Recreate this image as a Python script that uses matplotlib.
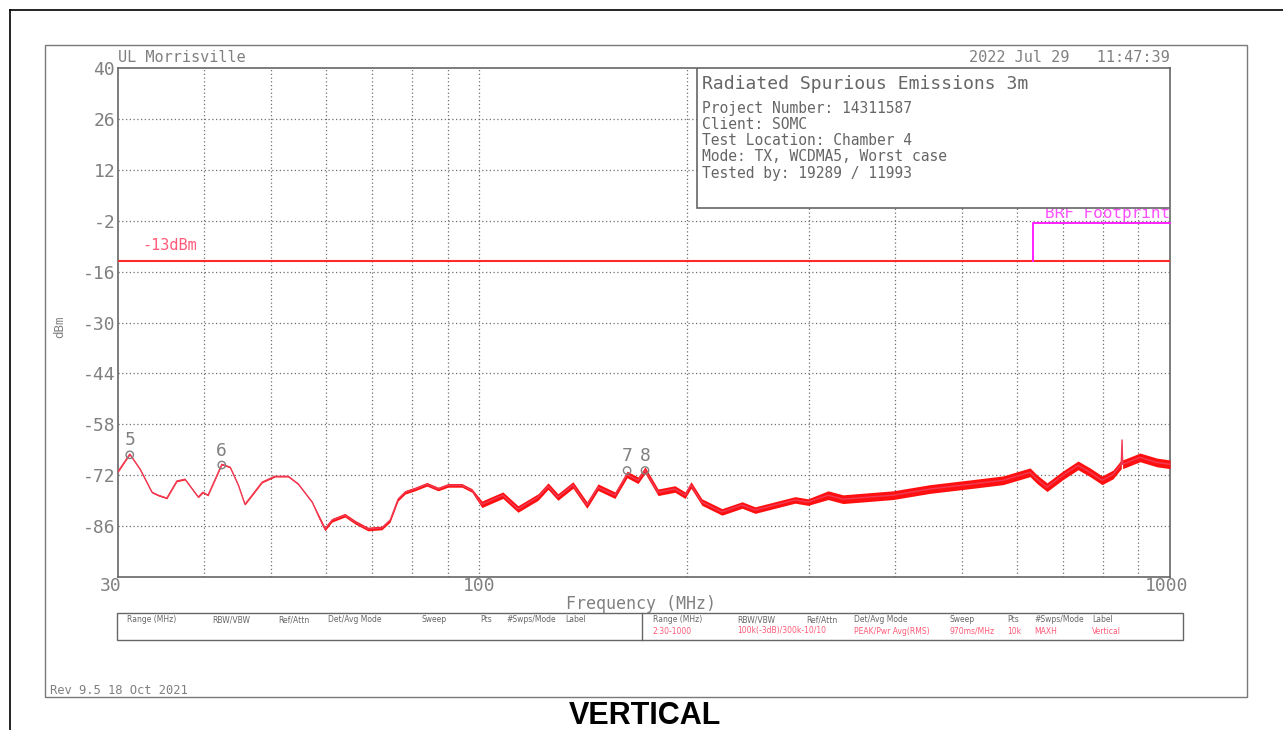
#importing necessary modules
import matplotlib
matplotlib.use("Agg")
import matplotlib.pyplot as plt
from matplotlib.patches import Rectangle
from matplotlib.lines import Line2D

# trace (MHz, dBm)
freq_mhz = [30, 31.2, 32.3, 33.6, 34.3, 35.3, 36.5, 37.5, 39.2, 39.8,
            40.5, 41.5, 42.4, 43.6, 44.8, 45.8, 46.9, 48.5, 50.6, 52.9,
            54.7, 57.3, 58.8, 59.8, 61.2, 63.9, 66.1, 69.0, 72.3, 74.3,
            76.3, 78.1, 80.7, 84.0, 87.2, 90.1, 94.4, 97.6, 100.9, 108.2,
            113.8, 121.7, 125.8, 130.0, 136.7, 143.2, 148.6, 157.2, 163.7, 169.8,
            173.8, 181.5, 192.0, 198.6, 202.6, 210.1, 224.6, 240.2, 250.8, 268.1,
            286.6, 299.2, 319.9, 336.2, 397.2, 449.3, 513.5, 573.1, 627.2, 641.9,
            663.7, 700.1, 736, 766, 797.3, 827.1, 850, 852.3, 854, 904.8,
            957.5, 1000]
level_dbm = [-71, -66.2, -70.4, -76.7, -77.5, -78.3, -73.6, -73.1, -78, -76.7,
             -77.5, -73, -69, -69.8, -74.7, -80, -77.5, -73.9, -72.3, -72.3,
             -74.4, -79.4, -84, -86.8, -84.4, -83, -84.9, -86.8, -86.5, -84.4,
             -78.6, -76.7, -75.8, -74.5, -75.8, -74.8, -74.8, -76.2, -80, -77.5,
             -81.3, -78, -75, -78, -74.7, -80.2, -75.3, -77.5, -71.8, -73.4,
             -70.6, -76.7, -75.8, -77.5, -74.7, -79.4, -82.1, -80.2, -81.6, -80.2,
             -78.8, -79.4, -77.5, -78.6, -77.5, -75.8, -74.5, -73.4, -71.2, -73.1,
             -75.3, -72, -69.3, -71.2, -73.4, -71.8, -69, -62.3, -69, -67.1,
             -68.5, -69]
# half width of the noise band around the trace (dB)
spread_db = [0.2, 0.2, 0.2, 0.2, 0.2, 0.2, 0.2, 0.2, 0.2, 0.2,
             0.2, 0.2, 0.2, 0.2, 0.2, 0.2, 0.2, 0.2, 0.2, 0.2,
             0.2, 0.2, 0.5, 0.5, 0.5, 0.5, 0.5, 0.5, 0.5, 0.5,
             0.5, 0.5, 0.5, 0.5, 0.5, 0.5, 0.5, 0.5, 0.9, 0.9,
             0.9, 0.9, 0.9, 0.9, 0.9, 0.9, 0.9, 0.9, 0.9, 0.9,
             0.9, 0.9, 0.9, 0.9, 0.9, 0.9, 0.9, 0.9, 0.9, 0.9,
             0.9, 0.9, 1.2, 1.2, 1.2, 1.2, 1.2, 1.2, 1.2, 1.2,
             1.2, 1.2, 1.2, 1.2, 1.2, 1.2, 1.2, 0.2, 1.2, 1.2,
             1.2, 1.2]

# peak markers
marker_freq = [31.2, 42.4, 163.7, 173.8]
marker_dbm = [-66.4, -69.2, -70.7, -70.7]
marker_labels = ['5', '6', '7', '8']

# limit line and BRF footprint box
limit_dbm = -13
brf_start = 634
brf_stop = 1000
brf_top = -2.6

yticks = [40, 26, 12, -2, -16, -30, -44, -58, -72, -86]
xgrid = [40, 50, 60, 70, 80, 90, 100, 200, 300, 400, 500, 600, 700, 800, 900]

info_lines = ['Project Number: 14311587', 'Client: SOMC', 'Test Location: Chamber 4',
              'Mode: TX, WCDMA5, Worst case', 'Tested by: 19289 / 11993']

table_headers = ['Range (MHz)', 'RBW/VBW', 'Ref/Attn', 'Det/Avg Mode', 'Sweep', 'Pts', '#Swps/Mode', 'Label']
table_values = ['2:30-1000', '100k(-3dB)/300k-10/10', '', 'PEAK/Pwr Avg(RMS)', '970ms/MHz', '10k', 'MAXH', 'Vertical']
header_x_left = [127, 212, 278, 328, 422, 480, 506, 565]
header_x_right = [653, 737, 806, 854, 950, 1007, 1034, 1092]

W, H = 1283, 730
mono = 'DejaVu Sans Mono'
grey = '#808080'

def fx(px):
    return px / W

def fy(py):
    return 1 - py / H

fig = plt.figure(figsize=(12.83, 7.30), dpi=100)

# outer frames
fig.add_artist(Line2D([fx(10), 1], [fy(10), fy(10)], color='black', lw=1.2))
fig.add_artist(Line2D([fx(10), fx(10)], [fy(10), 0], color='black', lw=1.2))
fig.add_artist(Rectangle((fx(45), fy(697)), fx(1247) - fx(45), fy(45) - fy(697),
                         fill=False, edgecolor='#7a7a7a', lw=1.0))

ax = fig.add_axes([fx(118), fy(577), fx(1170) - fx(118), fy(68) - fy(577)])
ax.set_xscale('log')
ax.set_xlim(30, 1000)
ax.set_ylim(-100, 40)

# grid
for f in xgrid:
    ax.axvline(f, color='#707070', lw=0.9, ls=(0, (1, 2)), zorder=1)
for y in yticks[1:]:
    ax.axhline(y, color='#707070', lw=0.9, ls=(0, (1, 2)), zorder=1)

ax.set_yticks(yticks)
ax.set_yticklabels([str(t) for t in yticks], fontsize=13, family=mono, color=grey)
ax.set_xticks([])
ax.minorticks_off()
ax.tick_params(axis='y', length=0, pad=2)
ax.tick_params(axis='x', which='both', length=0)
for s in ax.spines.values():
    s.set_color('#666666')
    s.set_linewidth(1.2)

# x tick labels drawn by hand like the analyzer
ax.text(29.3, -100, '30', ha='center', va='top', fontsize=13, family=mono, color=grey)
ax.text(100, -100, '100', ha='center', va='top', fontsize=13, family=mono, color=grey)
ax.text(990, -100, '1000', ha='center', va='top', fontsize=13, family=mono, color=grey)

# trace
lower = [l - s for l, s in zip(level_dbm, spread_db)]
upper = [l + s for l, s in zip(level_dbm, spread_db)]
ax.fill_between(freq_mhz, lower, upper, color='#ff1010', lw=0, zorder=3)
ax.plot(freq_mhz, level_dbm, color='#f03a55', lw=1.0, zorder=4)

# limit line
ax.axhline(limit_dbm, color='#ff2a2a', lw=1.5, zorder=5)
ax.text(32.5, limit_dbm + 4.2, '-13dBm', fontsize=11, family=mono, color='#ff5a78', va='center')

# BRF footprint
ax.plot([brf_start, brf_start, brf_stop], [limit_dbm, brf_top, brf_top], color='#ff20ff', lw=1.4, zorder=5, clip_on=False)
ax.text(brf_stop, brf_top + 0.5, 'BRF Footprint', fontsize=11.5, family=mono, color='#ff50ff', ha='right', va='bottom')

# markers
ax.scatter(marker_freq, marker_dbm, s=28, facecolors='none', edgecolors='#808080', lw=1.0, zorder=6)
for f, d, lab in zip(marker_freq, marker_dbm, marker_labels):
    ax.text(f, d + 1.5, lab, fontsize=13, family=mono, color=grey, ha='center', va='bottom')

# info box
ax.add_patch(Rectangle((0.5504, 0.725), 1 - 0.5504, 0.275, transform=ax.transAxes,
                       facecolor='white', edgecolor='#666666', lw=1.2, zorder=7))
fig.text(fx(702), fy(84), 'Radiated Spurious Emissions 3m', fontsize=13, family=mono, color='#666666', va='center')
for i, line in enumerate(info_lines):
    fig.text(fx(702), fy(108 + i * 16.3), line, fontsize=10.5, family=mono, color='#666666', va='center')

# header texts
fig.text(fx(118), fy(58), 'UL Morrisville', fontsize=11, family=mono, color=grey, va='center')
fig.text(fx(1170), fy(58), '2022 Jul 29   11:47:39', fontsize=11, family=mono, color=grey, va='center', ha='right')
fig.text(fx(60), fy(327), 'dBm', fontsize=9, family=mono, color=grey, rotation=90, va='center', ha='center')
fig.text(fx(641), fy(604), 'Frequency (MHz)', fontsize=12, family=mono, color=grey, va='center', ha='center')

# settings table
fig.add_artist(Rectangle((fx(117), fy(640)), fx(1183) - fx(117), fy(613) - fy(640),
                         fill=False, edgecolor='#666666', lw=1.0))
fig.add_artist(Line2D([fx(642), fx(642)], [fy(640), fy(613)], color='#666666', lw=1.0))
for hx, h in zip(header_x_left, table_headers):
    fig.text(fx(hx), fy(620), h, fontsize=5.5, color='#666666', va='center')
for hx, h, v in zip(header_x_right, table_headers, table_values):
    fig.text(fx(hx), fy(620), h, fontsize=5.5, color='#666666', va='center')
    if v:
        fig.text(fx(hx), fy(631), v, fontsize=5.5, color='#ff5a78', va='center')

fig.text(fx(50), fy(690), 'Rev 9.5 18 Oct 2021', fontsize=8.7, family=mono, color=grey, va='center')
fig.text(fx(645), fy(716), 'VERTICAL', fontsize=22, family='Liberation Sans', weight='bold', color='black', va='center', ha='center')

fig.savefig('out.png', dpi=100)
